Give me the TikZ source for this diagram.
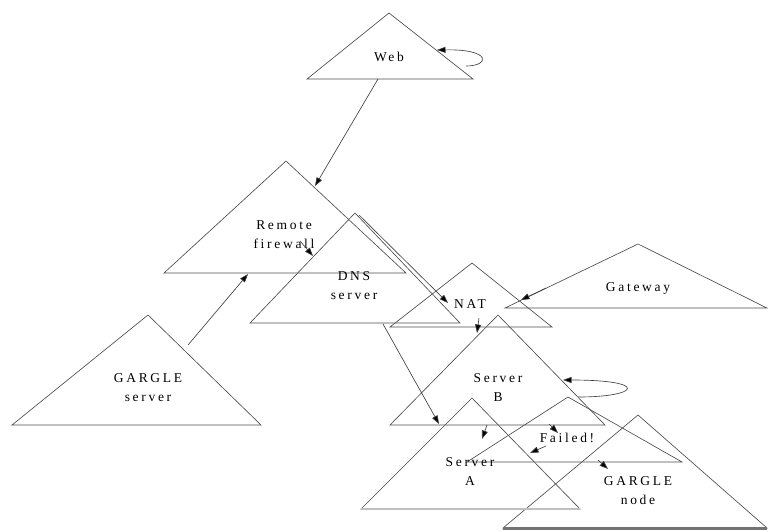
\documentclass[tikz,border=0pt]{standalone}
\usepackage{fontspec}
\setmainfont{Liberation Serif}[LetterSpace=20]
\usetikzlibrary{arrows.meta}
\begin{document}
\begin{tikzpicture}[x=1pt,y=-1pt,
  tri/.style={draw=black!70, line width=0.65pt},
  conn/.style={draw=black!75, line width=0.65pt, -{Triangle[length=8.5pt,width=6pt,fill=black]}},
  lbl/.style={font=\fontsize{13.5}{15}\selectfont, text=black, inner sep=0pt, align=center}]
\useasboundingbox (0,0) rectangle (768,531);
% ---- triangle corners
\coordinate (wa) at (389,13);  \coordinate (wl) at (307,79);  \coordinate (wr) at (473,79);
\coordinate (ra) at (286,161); \coordinate (rl) at (164,273); \coordinate (rr) at (406,273);
\coordinate (da) at (355,213); \coordinate (dl) at (250,323); \coordinate (dr) at (460,323);
\coordinate (na) at (472,263); \coordinate (nl) at (390,327); \coordinate (nr) at (552,327);
\coordinate (ga) at (638,244); \coordinate (gl) at (505,308); \coordinate (gr) at (767,308);
\coordinate (sa) at (148,315); \coordinate (sl) at (12,425);  \coordinate (sr) at (261,425);
\coordinate (ba) at (498,315); \coordinate (bl) at (390,425); \coordinate (br) at (605,425);
\coordinate (fa) at (568,397); \coordinate (fl) at (467,462); \coordinate (fr) at (682,462);
\coordinate (aa) at (472,398); \coordinate (al) at (361,509); \coordinate (ar) at (580,509);
\coordinate (ka) at (638,415); \coordinate (kl) at (503,528); \coordinate (kr) at (767,528);
% ---- triangles
\foreach \t in {w,r,d,n,g,s,b,f,a,k}{\draw[tri] (\t a) -- (\t l) -- (\t r) -- cycle;}
\draw[black!25, line width=2.5pt] (al) -- (ar);
\draw[black!55, line width=3pt] (kl) -- (kr);
% ---- labels
\node[lbl] (web) at (389,57) {Web};
\node[lbl] (remote) at (284,235) {Remote\\[4pt]firewall};
\node[lbl] (dns) at (354,286) {DNS\\[4pt]server};
\node[lbl] (nat) at (470,304) {NAT};
\node[lbl] (gateway) at (638,288) {Gateway};
\node[lbl] (gserver) at (148,388) {GARGLE\\[4pt]server};
\node[lbl] (serverb) at (498,388) {Server\\[4pt]B};
\node[lbl] (failed) at (567,438) {Failed!};
\node[lbl] (servera) at (470,472) {Server\\[4pt]A};
\node[lbl] (gnode) at (638,491) {GARGLE\\[4pt]node};
% ---- connector end points
\coordinate (w1) at (378,79);  \coordinate (r1) at (315,186);
\coordinate (wls) at (466,66); \coordinate (wle) at (437,50);
\coordinate (r2) at (300,241); \coordinate (d1) at (313,256);
\coordinate (s1) at (188,345); \coordinate (r3) at (248,274);
\coordinate (d2) at (359,215); \coordinate (n1) at (448,303);
\coordinate (g1) at (546,288); \coordinate (n2) at (521,300);
\coordinate (n3) at (479,318); \coordinate (b1) at (477,333);
\coordinate (d3) at (383,324); \coordinate (a1) at (439,424);
\coordinate (b2) at (487,425); \coordinate (a2) at (482,439);
\coordinate (b3) at (549,424); \coordinate (f1) at (558,433);
\coordinate (f2) at (546,446); \coordinate (a3) at (530,453);
\coordinate (f3) at (598,460); \coordinate (k1) at (608,469);
\coordinate (bls) at (578,397); \coordinate (ble) at (563,380);
% ---- connectors
\draw[conn] (wls) .. controls (490,66) and (492,49) .. (wle);
\draw[conn] (w1) -- (r1);
\draw[conn] (r2) -- (d1);
\draw[conn] (s1) -- (r3);
\draw[conn] (d2) -- (n1);
\draw[conn] (g1) -- (n2);
\draw[conn] (n3) -- (b1);
\draw[conn] (d3) -- (a1);
\draw[conn] (b2) -- (a2);
\draw[conn] (b3) -- (f1);
\draw[conn] (f2) -- (a3);
\draw[conn] (f3) -- (k1);
\draw[conn] (bls) .. controls (640,397) and (650,380) .. (ble);
\end{tikzpicture}
\end{document}
